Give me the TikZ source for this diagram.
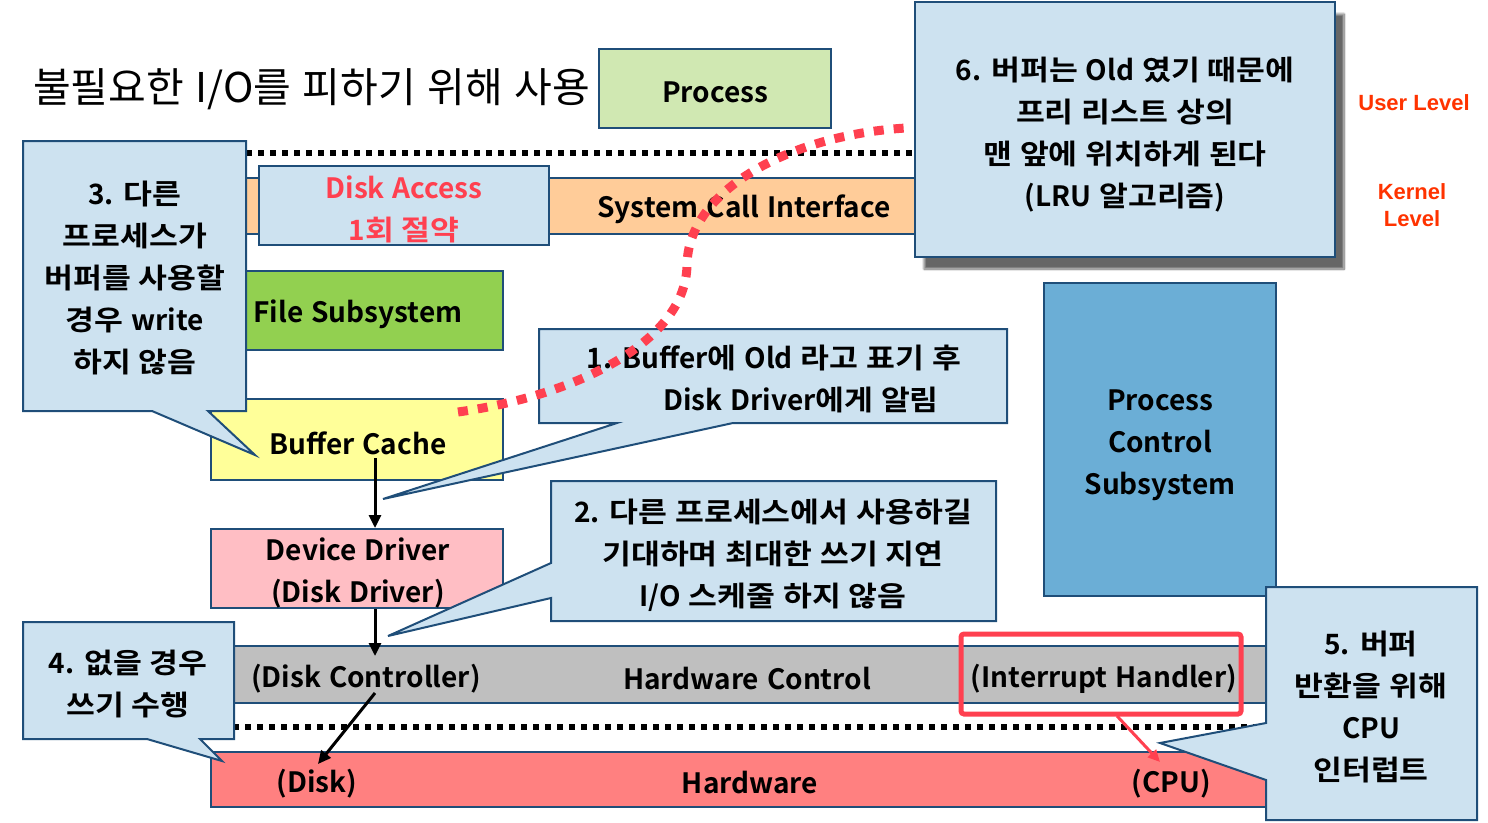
\documentclass[tikz,border=0pt]{standalone}
\usepackage{fontspec}
\setmainfont{Noto Sans CJK KR}[BoldFont={Noto Sans CJK KR Bold}, WordSpace=1.25]
\newfontfamily\hangulfont{Noto Sans CJK KR}[BoldFont={Noto Sans CJK KR Bold}, FakeStretch=1.12, WordSpace=1.25]
\newfontfamily\arialfont{Liberation Sans}
\usetikzlibrary{arrows.meta,shadows.blur}

% Hangul syllables are set slightly wider than the Latin text around them
\newcount\hangulcode
\newXeTeXintercharclass\hangulclass
\hangulcode="AC00
\loop
  \XeTeXcharclass\hangulcode=\hangulclass
  \ifnum\hangulcode<"D7A3 \advance\hangulcode by 1
\repeat
\XeTeXinterchartoks 0 \hangulclass = {\begingroup\hangulfont}
\XeTeXinterchartoks 4095 \hangulclass = {\begingroup\hangulfont}
\XeTeXinterchartoks \hangulclass 0 = {\endgroup}
\XeTeXinterchartoks \hangulclass 4095 = {\endgroup}

\definecolor{edge}{HTML}{1F4E79}
\definecolor{note}{HTML}{CDE2F0}
\definecolor{procgreen}{HTML}{D0E8B2}
\definecolor{syscall}{HTML}{FFCC99}
\definecolor{filegreen}{HTML}{92D050}
\definecolor{bufyellow}{HTML}{FFFF99}
\definecolor{drvpink}{HTML}{FFBEC4}
\definecolor{hwgray}{HTML}{BFBFBF}
\definecolor{hwred}{HTML}{FF8080}
\definecolor{pcsblue}{HTML}{6BAED6}
\definecolor{alert}{HTML}{FF4050}
\definecolor{lvl}{HTML}{FF3300}

\tikzset{
  box/.style={draw=edge, line width=2pt, inner sep=0pt, align=center,
              font=\bfseries\fontsize{28}{42}\selectfont},
  lbl/.style={inner sep=0pt, align=center,
              font=\bfseries\fontsize{28}{42}\selectfont},
  balloon/.style={draw=edge, fill=note, line width=2pt, line join=miter},
  arr/.style={line width=3pt, -{Triangle[length=13pt,width=12pt]}},
  redarr/.style={draw=alert, line width=3pt, -{Triangle[length=12pt,width=11pt]}},
  blackdots/.style={line width=6pt, dash pattern=on 6pt off 6pt},
  reddots/.style={draw=alert, line width=9pt, dash pattern=on 10pt off 10pt},
  levelname/.style={inner sep=0pt, align=center, text=lvl,
                    font=\arialfont\bfseries\fontsize{22}{27}\selectfont}
}

\begin{document}
\XeTeXinterchartokenstate=1
\begin{tikzpicture}[x=1pt, y=-1pt]
\useasboundingbox (0,0) rectangle (1488,822);

% user / kernel boundary and kernel / hardware boundary
\coordinate (ub0) at (210,153); \coordinate (ub1) at (914,153);
\draw[blackdots] (ub0) -- (ub1);
\coordinate (hb0) at (233,727); \coordinate (hb1) at (1266,727);
\draw[blackdots] (hb0) -- (hb1);

% title (plain width)
\node[anchor=west, inner sep=0pt, font=\fontsize{41}{48}\selectfont] (title) at (33,89)
  {\XeTeXinterchartokenstate=0 불필요한 I/O를 피하기 위해 사용};

% layers
\node[box, fill=procgreen, minimum width=232pt, minimum height=79pt] (proc) at (715,88.5) {};
\node[lbl] (proct) at (715,92) {Process};

\node[box, fill=syscall, minimum width=730pt, minimum height=56pt] (sci) at (575,206) {};
\node[lbl] (scit) at (744,209) {System Call Interface};

\node[box, fill=note, minimum width=290pt, minimum height=79pt] (da) at (404,205.5) {};
\node[lbl, text=alert] (dat) at (404,209) {Disk Access\\1회 절약};

\node[box, fill=filegreen, minimum width=292pt, minimum height=79pt] (fs) at (357,310.5) {};
\node[lbl] (fst) at (358,314) {File Subsystem};

\node[box, fill=bufyellow, minimum width=292pt, minimum height=81pt] (bc) at (357,439.5) {};
\node[lbl] (bct) at (358,443) {Buffer Cache};

\node[box, fill=drvpink, minimum width=292pt, minimum height=79pt] (dd) at (357,568.5) {};
\node[lbl] (ddt) at (358,573) {Device Driver\\(Disk Driver)};

\node[box, fill=hwgray, minimum width=1078pt, minimum height=57pt] (hc) at (750,674.5) {};
\node[lbl] (hct1) at (366,679) {(Disk Controller)};
\node[lbl] (hct2) at (747,679) {Hardware Control};
\node[lbl] (hct3) at (1104,679) {(Interrupt Handler)};

\node[box, fill=hwred, minimum width=1078pt, minimum height=55pt] (hw) at (750,779.5) {};
\node[lbl] (hwt1) at (317,784) {(Disk)};
\node[lbl] (hwt2) at (750,783) {Hardware};
\node[lbl] (hwt3) at (1171,784) {(CPU)};

\node[box, fill=pcsblue, minimum width=232pt, minimum height=313pt] (pcs) at (1160,439.5) {};
\node[lbl] (pcst) at (1160,445) {Process\\Control\\Subsystem};

% level names
\node[levelname] (ul) at (1414,103) {User Level};
\node[levelname] (kl) at (1412,205) {Kernel\\Level};

% data path
\coordinate (a1) at (375,458);
\draw[arr] (a1) -- (a1 |- dd.north);
\coordinate (a2) at (375,656);
\draw[arr] (a2 |- dd.south) -- (a2);
\coordinate (a3s) at (375,693);
\coordinate (a3e) at (318,764);
\draw[arr] (a3s) -- (a3e);

% interrupt handler highlight
\draw[draw=alert, line width=5pt, rounded corners=3pt] (961,634) rectangle (1241,714);
\coordinate (ih) at (1117,716);
\coordinate (cpu) at (1160,762);
\draw[redarr] (ih) -- (cpu);

% note 1
\draw[balloon] (539,329) -- (1007,329) -- (1007,423) -- (733,423) -- (383,499)
  -- (617,423) -- (539,423) -- cycle;
\node[lbl] (n1) at (774,379) {1. Buffer에 Old 라고 표기 후\\\hspace*{54pt}Disk Driver에게 알림};

% buffer moving to the head of the free list
\coordinate (fl0) at (458,412);
\coordinate (fl1) at (687,265);
\coordinate (fl2) at (906,128);
\draw[reddots] (fl0) .. controls (580,395) and (686,340) .. (fl1)
  .. controls (688,190) and (790,135) .. (fl2);

% note 2
\draw[balloon] (551,481) -- (996,481) -- (996,621) -- (551,621) -- (551,598)
  -- (388,636) -- (551,563) -- cycle;
\node[lbl] (n2) at (773,555) {2. 다른 프로세스에서 사용하길\\기대하며 최대한 쓰기 지연\\I/O 스케줄 하지 않음};

% note 3
\draw[balloon] (23,141) -- (246,141) -- (246,411) -- (208,411) -- (255,455)
  -- (152,411) -- (23,411) -- cycle;
\node[lbl] (n3) at (135,278) {3. 다른\\프로세스가\\버퍼를 사용할\\경우 write\\하지 않음};

% note 4
\draw[balloon] (23,622) -- (234,622) -- (234,739) -- (200,739) -- (222,761)
  -- (147,739) -- (23,739) -- cycle;
\node[lbl] (n4) at (128,684) {4. 없을 경우\\쓰기 수행};

% note 5
\draw[balloon] (1266,587) -- (1477,587) -- (1477,820) -- (1266,820) -- (1266,780)
  -- (1160,743) -- (1266,723) -- cycle;
\node[lbl] (n5) at (1371,707) {5. 버퍼\\반환을 위해\\CPU\\인터럽트};

% note 6
\node[box, fill=note, minimum width=420pt, minimum height=255pt,
      blur shadow={shadow xshift=9pt, shadow yshift=-12pt, shadow opacity=60, shadow blur steps=10}]
      (n6box) at (1125,129.5) {};
\node[lbl] (n6) at (1125,135) {6. 버퍼는 Old 였기 때문에\\프리 리스트 상의\\맨 앞에 위치하게 된다\\(LRU 알고리즘)};

\end{tikzpicture}
\end{document}
